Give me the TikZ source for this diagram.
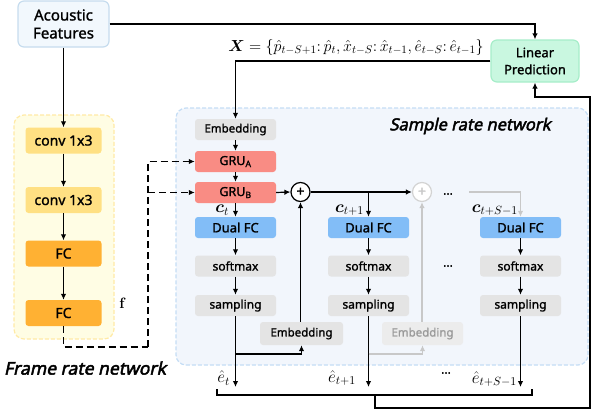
\RequirePackage{fix-cm}
\documentclass[tikz,border=0pt]{standalone}
\usepackage{fontspec}
\usepackage{amsmath}
\usepackage{bm}
\setsansfont{Noto Sans}[FakeBold=1.4]
\newfontfamily\ttlfont{Noto Sans}[FakeBold=2.6,FakeSlant=0.22]
\usetikzlibrary{arrows.meta}
\definecolor{afFill}{HTML}{F2F8FD}
\definecolor{afBord}{HTML}{C6DCEE}
\definecolor{lpFill}{HTML}{C9F7E0}
\definecolor{lpBord}{HTML}{A6EDC9}
\definecolor{sFill}{HTML}{F2F6FC}
\definecolor{sBord}{HTML}{C4DDF5}
\definecolor{fFill}{HTML}{FFFDE4}
\definecolor{fBord}{HTML}{FFEAA6}
\definecolor{convC}{HTML}{FFE083}
\definecolor{fcC}{HTML}{FFB133}
\definecolor{gruC}{HTML}{F98C84}
\definecolor{dfcC}{HTML}{82BDF7}
\definecolor{grayC}{HTML}{E4E4E4}
\definecolor{fadeC}{HTML}{C8C8C8}
\definecolor{fadeT}{HTML}{9A9A9A}
\begin{document}
\begin{tikzpicture}[x=1pt,y=-1pt,
  font=\sffamily,
  blk/.style={rounded corners=3pt, minimum width=81pt, minimum height=21pt, inner sep=0pt, text=black},
  graybox/.style={blk, fill=grayC},
  grubox/.style={blk, fill=gruC, font=\sffamily\fontsize{12.5}{14}\selectfont},
  dfcbox/.style={blk, fill=dfcC, font=\sffamily\fontsize{13}{15}\selectfont},
  smallt/.style={font=\sffamily\fontsize{11.5}{13}\selectfont},
  midt/.style={font=\sffamily\fontsize{12}{14}\selectfont},
  framebox/.style={rounded corners=3pt, minimum width=76pt, minimum height=26pt, inner sep=0pt, font=\sffamily\fontsize{14}{16}\selectfont},
  arr/.style={-{Latex[length=6pt,width=5.5pt]}, line width=1.2pt},
  farr/.style={-{Latex[length=6pt,width=5.5pt]}, line width=1.2pt, draw=fadeC, color=fadeC},
  dsh/.style={line width=1.5pt, dash pattern=on 7pt off 4pt},
  plusc/.style={circle, draw, line width=1.2pt, minimum size=19pt, inner sep=0pt, fill=white, font=\sffamily\fontsize{14}{14}\selectfont},
  lbl/.style={inner sep=0pt, font=\fontsize{17}{19}\selectfont},
  title/.style={inner sep=0pt, font=\ttlfont\fontsize{17.5}{20}\selectfont}
]
\useasboundingbox (0,0) rectangle (592,410);

% backgrounds
\node[draw=sBord, fill=sFill, dash pattern=on 4pt off 2pt, line width=1.2pt, rounded corners=10pt, minimum width=412pt, minimum height=257pt, inner sep=0pt] (samplenet) at (382,236.5) {};
\node[title, font=\ttlfont\fontsize{16.5}{19}\selectfont] (sampletitle) at (470,126) {Sample rate network};
\node[draw=fBord, fill=fFill, dash pattern=on 4pt off 2pt, line width=1.2pt, rounded corners=10pt, minimum width=100pt, minimum height=224pt, inner sep=0pt] (framenet) at (64,227) {};
\node[title] (frametitle) at (85,368) {Frame rate network};

% top nodes
\node[draw=afBord, fill=afFill, line width=1.2pt, rounded corners=6pt, minimum width=91pt, minimum height=46pt, inner sep=0pt, align=center, font=\sffamily\fontsize{15}{18}\selectfont] (af) at (63.5,24) {Acoustic\\Features};
\node[draw=lpBord, fill=lpFill, line width=1.2pt, rounded corners=6pt, minimum width=88pt, minimum height=42pt, inner sep=0pt, align=center, font=\sffamily\fontsize{13}{17}\selectfont] (lp) at (535,61) {Linear\\Prediction};
\node[inner sep=0pt, font=\fontsize{16}{18}\selectfont, anchor=center] (formula) at (356,47.5) {$\bm{X}=\{\hat{p}_{t-S+1}{:}\,\hat{p}_{t},\hat{x}_{t-S}{:}\,\hat{x}_{t-1},\hat{e}_{t-S}{:}\,\hat{e}_{t-1}\}$};

% frame rate network
\node[framebox, fill=convC] (conv1) at (63.5,140.5) {conv 1x3};
\node[framebox, fill=convC] (conv2) at (63.5,200) {conv 1x3};
\node[framebox, fill=fcC] (fc1) at (63.5,253.5) {FC};
\node[framebox, fill=fcC] (fc2) at (63.5,313) {FC};
\node[inner sep=0pt, font=\bfseries\fontsize{15}{17}\selectfont] (flab) at (122,303) {f};

% column 1
\node[graybox, smallt] (emb1) at (235.5,129.5) {Embedding};
\node[grubox] (grua) at (235.5,161.5) {GRU\textsubscript{A}};
\node[grubox] (grub) at (235.5,192.5) {GRU\textsubscript{B}};
\node[dfcbox] (dfc1) at (235.5,227.5) {Dual FC};
\node[graybox, midt] (sm1) at (235.5,266) {softmax};
\node[graybox, midt] (samp1) at (235.5,305.5) {sampling};
\node[graybox, smallt, minimum width=83pt, minimum height=23pt] (emb2) at (301.5,333.5) {Embedding};
\node[plusc] (plus1) at (300.5,192) {+};

% column 2
\node[dfcbox] (dfc2) at (368.5,227.5) {Dual FC};
\node[graybox, midt] (sm2) at (368.5,266) {softmax};
\node[graybox, midt] (samp2) at (368.5,305.5) {sampling};
\node[graybox, smallt, minimum height=23pt, fill=grayC!70, text=fadeT] (emb3) at (422.5,333.5) {Embedding};
\node[plusc, draw=fadeC!80, text=fadeC] (plus2) at (422,192) {+};

% column 3
\node[dfcbox] (dfc3) at (520.5,227.5) {Dual FC};
\node[graybox, midt] (sm3) at (520.5,266) {softmax};
\node[graybox, midt] (samp3) at (520.5,305.5) {sampling};

% dots
\node[inner sep=0pt, font=\sffamily\fontsize{12}{12}\selectfont] (d1) at (448,194) {...};
\node[inner sep=0pt, font=\sffamily\fontsize{12}{12}\selectfont] (d2) at (448,266) {...};
\node[inner sep=0pt, font=\sffamily\fontsize{12}{12}\selectfont] (d3) at (446,373) {...};

% labels c and e
\node[lbl, anchor=east] (ct) at (229,210) {$\bm{c}_{t}$};
\node[lbl, anchor=east] (ct1) at (364,210) {$\bm{c}_{t+1}$};
\node[lbl, anchor=east] (cts) at (518,210) {$\bm{c}_{t+S-1}$};
\node[lbl, anchor=east] (et) at (230,378) {$\hat{e}_{t}$};
\node[lbl, anchor=east] (et1) at (356,378) {$\hat{e}_{t+1}$};
\node[lbl, anchor=east] (ets) at (517,379) {$\hat{e}_{t+S-1}$};

% coordinates
\coordinate (fb) at (148,347);
\coordinate (j1) at (235.5,354);
\coordinate (j2) at (368.5,354);
\coordinate (o1) at (235.5,387);
\coordinate (o2) at (368.5,387);
\coordinate (o3) at (520.5,387);
\coordinate (bl) at (217,389);
\coordinate (blc) at (217,395);
\coordinate (brc) at (532,395);
\coordinate (br) at (532,389);
\coordinate (bm) at (375,395);
\coordinate (bb) at (375,408);
\coordinate (rb) at (590,408);
\coordinate (rt) at (590,97);
\coordinate (fs) at (469,192);

% connectors
\draw[arr] (af.east) -| (lp.north);
\draw[arr] (lp.west) -| (emb1.north);
\draw[arr] (af.south) -- (conv1.north);
\draw[arr] (conv1.south) -- (conv2.north);
\draw[arr] (conv2.south) -- (fc1.north);
\draw[arr] (fc1.south) -- (fc2.north);
\draw[dsh] (fc2.south) |- (fb);
\draw[dsh, -{Latex[length=6pt,width=5.5pt]}] (fb) |- (grua.west);
\draw[dsh, -{Latex[length=6pt,width=5.5pt]}] (fb |- grub.west) -- (grub.west);

\draw[arr] (emb1.south) -- (grua.north);
\draw[arr] (grua.south) -- (grub.north);
\draw[arr] (grub.south) -- (dfc1.north);
\draw[arr] (dfc1.south) -- (sm1.north);
\draw[arr] (sm1.south) -- (samp1.north);
\draw[arr] (samp1.south) -- (o1);
\draw[arr] (j1) -| (emb2.south);
\draw[arr] (plus1.south |- emb2.north) -- (plus1.south);
\draw[arr] (grub.east) -- (plus1.west);
\draw[arr] (plus1.east) -- (plus2.west);
\draw[arr] (plus1.east -| dfc2.north) -- (dfc2.north);

\draw[arr] (dfc2.south) -- (sm2.north);
\draw[arr] (sm2.south) -- (samp2.north);
\draw[arr] (samp2.south) -- (o2);
\draw[farr] (j2) -| (emb3.south);
\draw[farr] (plus2.south |- emb3.north) -- (plus2.south);
\draw[farr] (fs) -| (dfc3.north);

\draw[arr] (dfc3.south) -- (sm3.north);
\draw[arr] (sm3.south) -- (samp3.north);
\draw[arr] (samp3.south) -- (o3);

\draw[line width=1.2pt] (bl) -- (blc) -- (brc) -- (br);
\draw[arr] (bm) -- (bb) -- (rb) -- (rt) -| (lp.south);
\end{tikzpicture}
\end{document}
